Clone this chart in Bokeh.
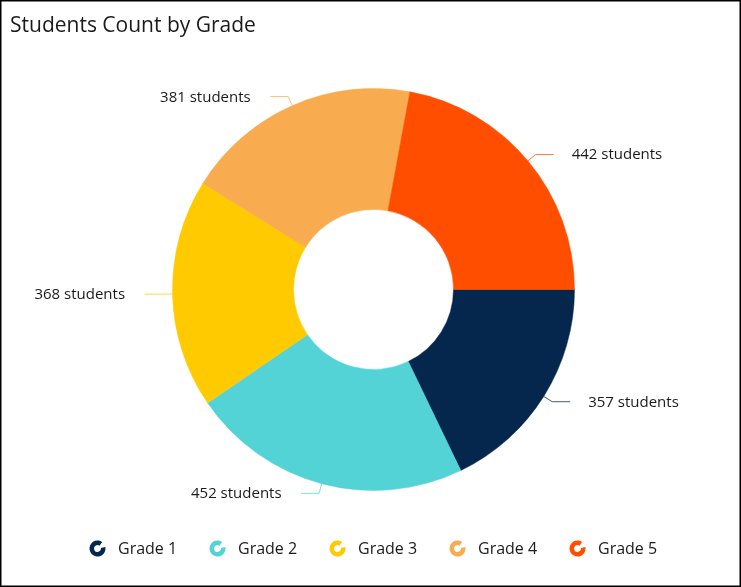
import math
from bokeh.plotting import figure
from bokeh.models import ColumnDataSource, Range1d
from bokeh.core.properties import value
from bokeh.embed import file_html
from bokeh.resources import INLINE

TITLE = "Students Count by Grade"
grades = ["Grade 1", "Grade 2", "Grade 3", "Grade 4", "Grade 5"]
students = [357, 452, 368, 381, 442]
colors = ["#05264D", "#54D3D6", "#FFCB00", "#F9AB4F", "#FF4E00"]

W, H = 741, 587
FONT = "Open Sans"
cx, cy = 373, H - 289
R_OUT, R_IN, R_KINK = 201, 80, 211
total = sum(students)

p = figure(width=W, height=H, output_backend="svg", toolbar_location=None,
           x_range=Range1d(0, W), y_range=Range1d(0, H), min_border=0,
           outline_line_color="#000000", outline_line_width=2,
           background_fill_color="white", border_fill_color="white",
           styles={"position": "fixed", "left": "0px", "top": "0px"})
p.axis.visible = False
p.grid.visible = False

starts, ends = [], []
acc = 0
for v in students:
    starts.append(-2 * math.pi * acc / total)
    acc += v
    ends.append(-2 * math.pi * acc / total)

src = ColumnDataSource(dict(start=starts, end=ends, color=colors))
p.annular_wedge(x=cx, y=cy, inner_radius=R_IN, outer_radius=R_OUT,
                start_angle="start", end_angle="end", direction="clock",
                fill_color="color", line_color="color", line_width=0.5, source=src)

for s, e, v, c in zip(starts, ends, students, colors):
    m = (s + e) / 2
    x0, y0 = cx + R_OUT * math.cos(m), cy + R_OUT * math.sin(m)
    x1, y1 = cx + R_KINK * math.cos(m), cy + R_KINK * math.sin(m)
    sign = 1 if math.cos(m) >= 0 else -1
    x2 = x1 + sign * 18
    gap = 18 if sign > 0 else 19.5
    p.line([x0, x1, x2], [y0, y1, y1], line_color=c, line_width=1, line_alpha=0.75)
    p.text([x2 + sign * gap], [y1 + 1], text=[f"{v} students"], text_font=value(FONT),
           text_font_size="15px", text_color="#1a1a1a", text_baseline="middle",
           text_align="left" if sign > 0 else "right")

p.text([9.5], [H - 23], text=[TITLE], text_font=value(FONT), text_font_size="21px",
       text_color="#1a1a1a", text_baseline="middle", text_align="left")

for i, (g, c) in enumerate(zip(grades, colors)):
    lx = 97 + 120 * i
    ly = H - 548
    p.annular_wedge(x=lx, y=ly, inner_radius=3.5, outer_radius=8,
                    start_angle=math.radians(10), end_angle=math.radians(55),
                    direction="clock", fill_color=c, line_color=None)
    p.text([lx + 20.5], [ly + 0.5], text=[g], text_font=value(FONT), text_font_size="16px",
           text_color="#1a1a1a", text_baseline="middle", text_align="left")

open("out.html", "w").write(file_html(p, INLINE))
